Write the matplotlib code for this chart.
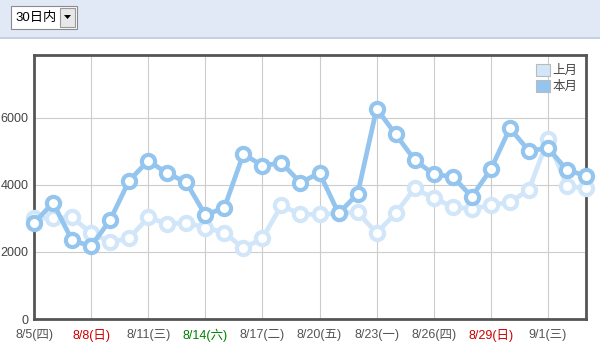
import matplotlib
matplotlib.use("Agg")
import matplotlib.pyplot as plt
from matplotlib.patches import Rectangle, Patch, Polygon
import numpy as np

plt.rcParams['font.family'] = ['Liberation Sans', 'Noto Sans CJK SC', 'DejaVu Sans']

this_month = [2860, 3470, 2350, 2170, 2955, 4130, 4725, 4350, 4080, 3104, 3323,
              4925, 4576, 4660, 4070, 4360, 3155, 3730, 6278, 5513, 4746, 4319,
              4248, 3651, 4468, 5692, 5020, 5100, 4448, 4275]
last_month = [3020, 3000, 3040, 2558, 2299, 2408, 3035, 2836, 2875, 2726, 2577,
              2110, 2408, 3390, 3125, 3125, 3155, 3180, 2570, 3155, 3900, 3602,
              3353, 3274, 3403, 3480, 3860, 5364, 3970, 3900]
tick_idx = [0, 3, 6, 9, 12, 15, 18, 21, 24, 27]
tick_labels = ['8/5(四)', '8/8(日)', '8/11(三)', '8/14(六)', '8/17(二)',
               '8/20(五)', '8/23(一)', '8/26(四)', '8/29(日)', '9/1(三)']
tick_colors = ['#555555', '#cc0000', '#555555', '#008000', '#555555',
               '#555555', '#555555', '#555555', '#cc0000', '#555555']
y_ticks = [0, 2000, 4000, 6000]
legend_labels = ['上月', '本月']
select_text = '30日内'

dark = '#94c5ef'
light = '#d2e6f9'

fig = plt.figure(figsize=(6, 3.5), dpi=100)
W, H = 600, 350

# header band
hdr = fig.add_axes([0, 0, 1, 1], zorder=-1)
hdr.set_xlim(0, W)
hdr.set_ylim(H, 0)
hdr.axis('off')
hdr.add_patch(Rectangle((0, 0), W, 37, facecolor='#e1e9f7', edgecolor='none'))
hdr.plot([0, W], [37.5, 37.5], color='#b8c8de', lw=1.2)
hdr.add_patch(Rectangle((11, 6), 66, 23, facecolor='white', edgecolor='#8a8a8a', lw=0.8))
hdr.add_patch(Rectangle((60, 8), 15, 19, facecolor='#e8e8e8', edgecolor='#9a9a9a', lw=0.8))
hdr.add_patch(Polygon([[64, 15], [71, 15], [67.5, 19]], closed=True, facecolor='black', edgecolor='none'))
hdr.text(15, 18, select_text, fontsize=9.5, va='center', ha='left', color='black')

ax = fig.add_axes([34 / W, 1 - 319 / H, 552 / W, 264 / H])
x = np.arange(len(this_month))
ax.plot(x, last_month, color=light, lw=3.4, marker='o', markersize=9.5,
        markerfacecolor='white', markeredgecolor=light, markeredgewidth=3,
        clip_on=False, zorder=3)
ax.plot(x, this_month, color=dark, lw=3.4, marker='o', markersize=9.5,
        markerfacecolor='white', markeredgecolor=dark, markeredgewidth=3,
        clip_on=False, zorder=4)

ax.set_xlim(0, 29)
ax.set_ylim(0, 7880)
ax.set_xticks(tick_idx)
ax.set_xticklabels(tick_labels, fontsize=9)
for lab, c in zip(ax.get_xticklabels(), tick_colors):
    lab.set_color(c)
ax.set_yticks(y_ticks)
ax.set_yticklabels([str(v) for v in y_ticks], fontsize=9, color='#444444')
ax.tick_params(length=0)
ax.tick_params(axis='y', pad=4)
ax.tick_params(axis='x', pad=7)
ax.grid(True, color='#cccccc', lw=0.8)
ax.set_axisbelow(True)
for s in ax.spines.values():
    s.set_color('#555555')
    s.set_linewidth(2)

handles = [Patch(facecolor=light, edgecolor='#bbbbbb', lw=0.8),
           Patch(facecolor=dark, edgecolor='#bbbbbb', lw=0.8)]
leg = ax.legend(handles, legend_labels, loc='upper right', frameon=False,
                fontsize=9, handlelength=1.1, handleheight=1.1,
                handletextpad=0.2, labelspacing=0.25, borderaxespad=0.3)
for t in leg.get_texts():
    t.set_color('#444444')

fig.savefig('out.png', dpi=100)
